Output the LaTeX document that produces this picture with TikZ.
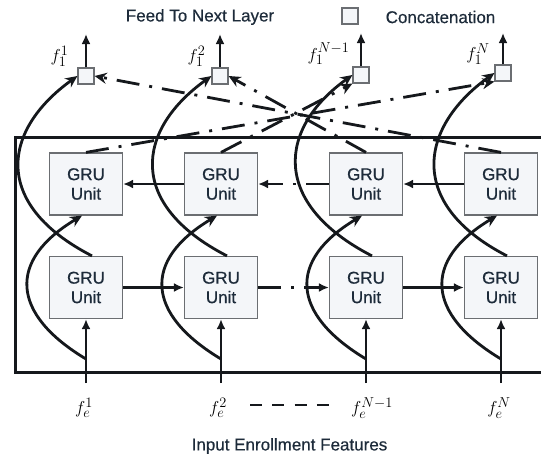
\documentclass[tikz,border=0pt]{standalone}
\usepackage{fontspec}
\newfontfamily\labelfont[FakeBold=0.5]{Liberation Sans}
\usetikzlibrary{arrows.meta,calc}
\definecolor{ink}{HTML}{15181C}
\definecolor{txt}{HTML}{1D2B3A}
\definecolor{boxfill}{HTML}{F4F6F9}
\definecolor{boxline}{HTML}{6B6E72}
\begin{document}
\begin{tikzpicture}[x=1pt,y=-1pt,
  gru/.style={draw=boxline, line width=1.2pt, fill=boxfill, minimum width=73pt, minimum height=62pt,
    inner sep=0pt, align=center, font=\labelfont\fontsize{17}{19.5}\selectfont, text=txt},
  cat/.style={draw=boxline, line width=1.2pt, fill=boxfill, minimum size=16pt, inner sep=0pt},
  conn/.style={draw=ink, line width=2.8pt},
  harrow/.style={conn, -{Latex[length=10pt,width=9pt]}},
  carrow/.style={conn, -{Stealth[length=12pt,width=11pt]}},
  dashdot/.style={dash pattern=on 23pt off 10pt on 3pt off 10pt},
  lbl/.style={font=\labelfont\fontsize{17}{20}\selectfont, text=txt, inner sep=0pt},
  mlbl/.style={font=\fontsize{19}{22}\selectfont, inner sep=0pt},
]
\useasboundingbox (0,0) rectangle (541,456);
\clip (0,0) rectangle (541,456);

% legend and titles
\node[lbl] (feed) at (200,17) {Feed To Next Layer};
\node[cat] (legsq) at (350,16) {};
\node[lbl] (concat) at (440.5,17) {Concatenation};
\node[lbl] (input) at (289.5,446) {Input Enrollment Features};

% frame
\draw[ink, line width=3pt] (15,137) rectangle (560,372);

% GRU units
\node[gru] (up1) at (86,184) {GRU\\Unit};
\node[gru] (up2) at (221,184) {GRU\\Unit};
\node[gru] (up3) at (366,184) {GRU\\Unit};
\node[gru] (up4) at (501,184) {GRU\\Unit};
\node[gru] (lo1) at (86,287.5) {GRU\\Unit};
\node[gru] (lo2) at (221,287.5) {GRU\\Unit};
\node[gru] (lo3) at (366,287.5) {GRU\\Unit};
\node[gru] (lo4) at (501,287.5) {GRU\\Unit};

% concatenation boxes
\node[cat] (c1) at (86,76) {};
\node[cat] (c2) at (220,76) {};
\node[cat] (c3) at (361,75) {};
\node[cat] (c4) at (503,73) {};

% outputs
\coordinate (o1) at (86,34);
\coordinate (o2) at (220,34);
\coordinate (o3) at (361,33);
\coordinate (o4) at (503,33);
\foreach \i in {1,2,3,4}{
  \draw[harrow] (c\i.north) -- (o\i);
}
\node[mlbl] (fo1) at (59.5,56) {$f_1^{1}$};
\node[mlbl] (fo2) at (196.5,56) {$f_1^{2}$};
\node[mlbl] (fo3) at (328.5,54) {$f_1^{N-1}$};
\node[mlbl] (fo4) at (478,54) {$f_1^{N}$};

% inputs
\coordinate (in1) at (86,383);
\coordinate (in2) at (221,383);
\coordinate (in3) at (366,383);
\coordinate (in4) at (501,383);
\node[mlbl] (fe1) at (84,408) {$f_e^{1}$};
\node[mlbl] (fe2) at (218,408) {$f_e^{2}$};
\node[mlbl] (fe3) at (372,408) {$f_e^{N-1}$};
\node[mlbl] (fe4) at (499,408) {$f_e^{N}$};
\coordinate (d1) at (250,405);
\coordinate (d2) at (329,405);
\draw[ink, line width=2.8pt, dash pattern=on 12pt off 10.3pt] (d1) -- (d2);

\foreach \i in {1,2,3,4}{
  \draw[harrow] (in\i) -- (lo\i.south);
  % input to backward unit
  \draw[carrow] ($(in\i)+(0,-24)$) .. controls +(-75,-45) and +(-75,45) .. ($(up\i.south)+(-4,0)$);
  % forward unit to concatenation
  \draw[carrow] ($(lo\i.north)+(6,0)$) .. controls +(-101,-52) and +(-75,54) .. (c\i.west);
}

% recurrent connections
\draw[harrow] (lo1.east) -- (lo2.west);
\draw[harrow, dashdot] (lo2.east) -- (lo3.west);
\draw[harrow] (lo3.east) -- (lo4.west);
\draw[harrow] (up4.west) -- (up3.east);
\draw[harrow, dashdot] (up3.west) -- (up2.east);
\draw[harrow] (up2.west) -- (up1.east);

% backward unit outputs to concatenation
\draw[carrow, dashdot] (up1.north) -- (c4.south west);
\draw[carrow, dashdot] (up4.north) -- (c1.east);
\draw[carrow, dashdot] (up2.north) -- (c3.south west);
\draw[carrow, dashdot] (up3.north) -- (c2.east);
\end{tikzpicture}
\end{document}
